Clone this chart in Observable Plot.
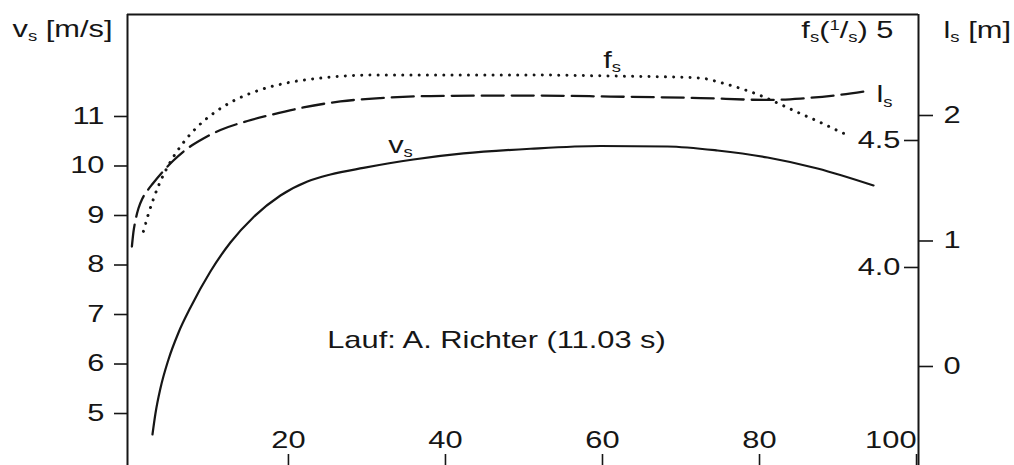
<!DOCTYPE html>
<html><head><meta charset="utf-8">
<script src="https://cdn.jsdelivr.net/npm/d3@7"></script>
<script src="https://cdn.jsdelivr.net/npm/@observablehq/plot@0.6"></script>
<style>body{margin:0;background:#fff}</style>
</head><body><div id="chart"></div>
<script>
// ---- data (distance in m) ----
const vsX   = [2.68, 3.06, 3.69, 4.71, 5.99, 7.52, 10.06, 12.61, 15.54, 18.98, 22.42, 25.35, 29.55, 35.92, 42.29, 50.83, 59.75, 68.28, 74.65, 81.02, 87.39, 94.52];
const vsVal = [4.576, 5.00, 5.505, 6.087, 6.632, 7.141, 7.869, 8.455, 8.966, 9.404, 9.687, 9.828, 9.962, 10.131, 10.253, 10.348, 10.404, 10.394, 10.313, 10.172, 9.95, 9.606];

const fsX   = [1.53, 2.04, 2.68, 3.44, 4.33, 5.48, 6.75, 8.41, 10.45, 12.99, 16.18, 20.0, 24.46, 30.83, 40.64, 50.83, 61.02, 68.66, 72.48, 75.03, 77.58, 80.13, 82.68, 85.22, 87.77, 89.68, 91.59];
const fsVal = [4.142, 4.198, 4.259, 4.321, 4.380, 4.442, 4.497, 4.554, 4.607, 4.656, 4.697, 4.728, 4.747, 4.758, 4.758, 4.758, 4.754, 4.750, 4.746, 4.728, 4.705, 4.677, 4.642, 4.606, 4.571, 4.543, 4.516];

const lsX   = [0.06, 0.25, 0.51, 0.89, 1.40, 2.04, 2.68, 4.08, 5.35, 7.13, 9.17, 11.34, 14.78, 17.71, 21.91, 26.62, 31.72, 38.09, 50.83, 61.02, 72.48, 81.02, 85.22, 89.43, 94.14];
const lsVal = [0.956, 1.068, 1.163, 1.259, 1.339, 1.402, 1.454, 1.558, 1.641, 1.737, 1.817, 1.884, 1.956, 2.004, 2.064, 2.112, 2.139, 2.155, 2.159, 2.151, 2.139, 2.124, 2.135, 2.159, 2.199];

const xTicks = [20, 40, 60, 80, 100];
const vTicks = [5, 6, 7, 8, 9, 10, 11];
const fTicks = [4.0, 4.5];
const lTicks = [0, 1, 2];

// alignment of the two right-hand scales with the v scale
const fAlign = [[4.0, 7.95], [4.5, 10.515]];
const lAlign = [[0, 5.95], [2, 11.02]];
const lin = a => { const k = (a[1][1] - a[0][1]) / (a[1][0] - a[0][0]); return [u => a[0][1] + (u - a[0][0]) * k, v => a[0][0] + (v - a[0][1]) / k]; };
const [fToV, vToF] = lin(fAlign);
const [lToV, vToL] = lin(lAlign);

const xDomain = [-0.5, 100.25];
const vDomain = [3.95, 13.06];

const vsData = vsX.map((x, i) => ({x, y: vsVal[i]}));
const fsData = fsX.map((x, i) => ({x, y: fToV(fsVal[i])}));
const lsData = lsX.map((x, i) => ({x, y: lToV(lsVal[i])}));

const curveLabels = [
  {text: "v_s", x: 32.7, y: 10.27},
  {text: "f_s", x: 60.1, y: fToV(4.787)},
  {text: "l_s", x: 94.9, y: lToV(2.104)}
];
const note = [{text: "Lauf: A. Richter (11.03 s)", x: 46.5, y: 6.33}];

const INK = "#161616";

const plot = Plot.plot({
  width: 1014, height: 465,
  marginLeft: 127, marginRight: 96, marginTop: 14, marginBottom: 0,
  x: {domain: xDomain},
  y: {domain: vDomain},
  style: {fontFamily: "'Liberation Sans', Arial, sans-serif", fontSize: "23px", color: INK, background: "white"},
  marks: [
    Plot.ruleX([xDomain[0], xDomain[1]], {stroke: INK, strokeWidth: 2}),
    Plot.ruleY([vDomain[1]], {stroke: INK, strokeWidth: 2}),
    Plot.line(vsData, {x: "x", y: "y", curve: "monotone-x", stroke: INK, strokeWidth: 2.2}),
    Plot.line(lsData, {x: "x", y: "y", curve: "monotone-x", stroke: INK, strokeWidth: 2.3, strokeDasharray: "22 8"}),
    Plot.line(fsData, {x: "x", y: "y", curve: "monotone-x", stroke: INK, strokeWidth: 3, strokeLinecap: "round", strokeDasharray: "0.01 8.2"}),
    // left v axis
    Plot.axisY(vTicks, {anchor: "left", tickSize: 13, tickPadding: 10, strokeWidth: 1.6, label: null, tickFormat: d => String(d)}),
    // inner f axis on the right frame edge
    Plot.axisY(fTicks.map(fToV), {anchor: "left", frameAnchor: "right", tickSize: 14, tickPadding: 4, strokeWidth: 1.6, label: null, tickFormat: v => vToF(v).toFixed(1)}),
    // outer l axis
    Plot.axisY(lTicks.map(lToV), {anchor: "right", tickSize: 14, tickPadding: 11, strokeWidth: 1.6, label: null, tickFormat: v => String(Math.round(vToL(v)))}),
    // x axis: ticks pointing up from the bottom edge, labels above
    Plot.axisX(xTicks, {anchor: "top", frameAnchor: "bottom", tickSize: 12, tickPadding: 6, strokeWidth: 1.6, label: null, tickFormat: d => d === 100 ? "" : String(d)}),
    Plot.text(xTicks.filter(d => d === 100), {x: d => d, frameAnchor: "bottom", textAnchor: "end", lineAnchor: "bottom", dy: -18, text: d => String(d)}),
    // axis titles
    Plot.text(["v_s [m/s]"], {frameAnchor: "top-left", textAnchor: "end", lineAnchor: "bottom", dx: -15, dy: 22}),
    Plot.text(["f_s(^1/_s) 5"], {frameAnchor: "top-right", textAnchor: "end", lineAnchor: "bottom", dx: -25, dy: 23}),
    Plot.text(["l_s [m]"], {frameAnchor: "top-right", textAnchor: "start", lineAnchor: "bottom", dx: 25, dy: 23}),
    // curve labels and note
    Plot.text(curveLabels, {x: "x", y: "y", text: "text", textAnchor: "start", lineAnchor: "bottom"}),
    Plot.text(note, {x: "x", y: "y", text: "text", textAnchor: "middle", lineAnchor: "bottom"})
  ]
});
document.getElementById("chart").append(plot);

// sub/superscripts: "_x" -> subscript, "^x" -> superscript
const NS = "http://www.w3.org/2000/svg";
plot.querySelectorAll("text").forEach(t => {
  const s = t.textContent;
  if (!/[_^]/.test(s)) return;
  const fs = parseFloat(getComputedStyle(t).fontSize);
  t.textContent = "";
  let shift = 0;
  const re = /([_^])(.)|([^_^]+)/g; let m;
  while ((m = re.exec(s))) {
    const ts = document.createElementNS(NS, "tspan");
    let target = 0, txt, small = false;
    if (m[1]) { target = m[1] === "_" ? fs * 0.2 : -fs * 0.32; txt = m[2]; small = true; }
    else txt = m[3];
    ts.setAttribute("dy", (target - shift).toFixed(2)); shift = target;
    if (small) ts.setAttribute("font-size", (fs * 0.6).toFixed(1));
    ts.textContent = txt;
    t.append(ts);
  }
});
// the printed lettering is wide: stretch each label horizontally about its anchor
const STRETCH = 1.34;
plot.querySelectorAll("text").forEach(t => {
  const b = t.getBBox();
  const a = getComputedStyle(t).textAnchor;
  const ax = a === "end" ? b.x + b.width : a === "middle" ? b.x + b.width / 2 : b.x;
  const tr = t.getAttribute("transform") || "";
  t.setAttribute("transform", `${tr} translate(${ax},0) scale(${STRETCH},1) translate(${-ax},0)`);
});
</script>
</body></html>
